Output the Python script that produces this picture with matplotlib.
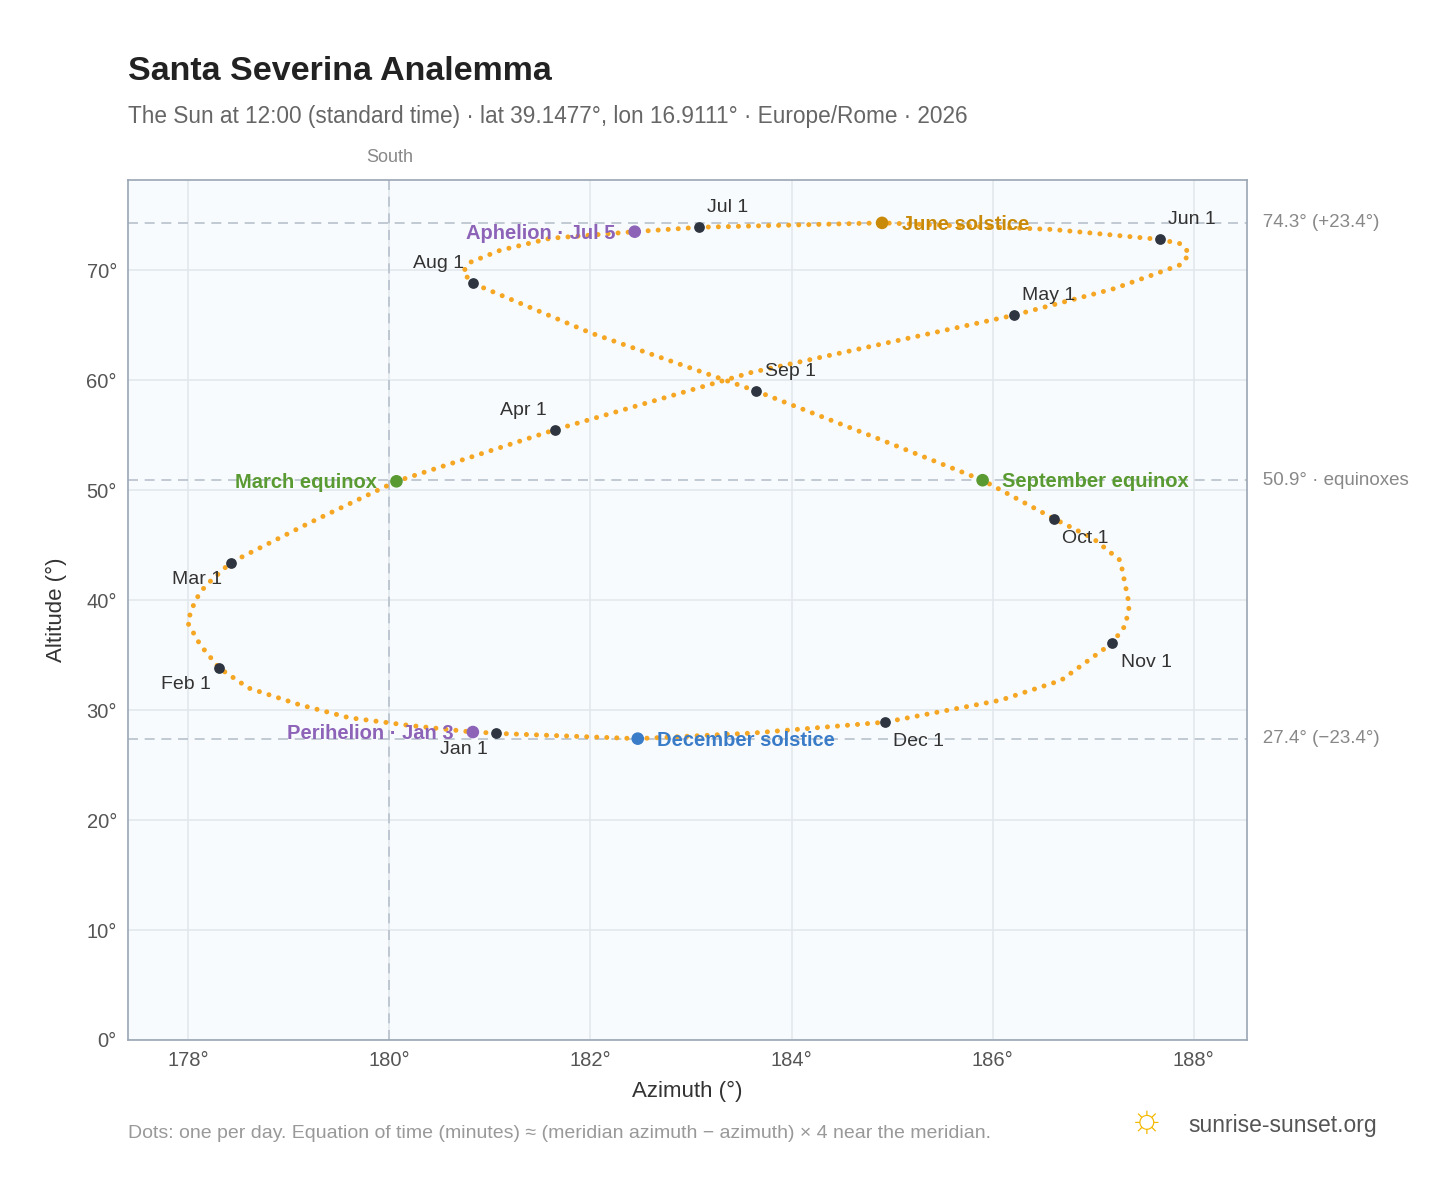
import matplotlib
matplotlib.use("Agg")
import matplotlib.pyplot as plt
plt.rcParams['font.family'] = ['Liberation Sans', 'DejaVu Sans']

# Path of the noon sun, azimuth / altitude
path_az = [181.06,180.83,180.2,179.6,179.1,178.6,178.31,178.12,177.99,178.07,178.17,178.42,179.2,180.07,181.65,183.6,186.21,187.2,187.57,187.87,187.96,187.87,187.66,186.6,184.9,183.08,182.44,181.6,181.1,180.8,180.73,180.83,182.0,183.65,184.8,185.9,186.61,187.0,187.27,187.36,187.32,187.19,186.68,186.08,184.93,183.6,182.47,181.15,181.06]
path_alt = [27.9,28.0,28.6,29.3,30.5,32.0,33.8,35.9,38.0,40.0,41.3,43.4,47.0,50.8,55.5,60.7,65.9,68.3,69.5,70.5,71.5,72.4,72.8,73.7,74.3,73.9,73.5,72.9,71.8,70.7,69.8,68.8,64.3,59.0,54.9,50.9,47.4,45.6,43.6,39.5,37.7,36.1,32.7,30.9,28.9,27.9,27.4,27.85,27.9]

months = ["Jan 1","Feb 1","Mar 1","Apr 1","May 1","Jun 1","Jul 1","Aug 1","Sep 1","Oct 1","Nov 1","Dec 1"]
month_az = [181.06,178.31,178.42,181.65,186.21,187.66,183.08,180.83,183.65,186.61,187.19,184.93]
month_alt = [27.9,33.8,43.4,55.5,65.9,72.8,73.9,68.8,59.0,47.4,36.1,28.9]
month_off = [(-6,-12),(-6,-12),(-6,-12),(-6,14),(6,14),(6,14),(6,14),(-6,14),(6,14),(6,-14),(6,-14),(6,-14)]
month_ha = ["right","right","right","right","left","left","left","right","left","left","left","left"]

events = ["March equinox","September equinox","June solstice","December solstice","Aphelion · Jul 5","Perihelion · Jan 3"]
event_az = [180.07,185.9,184.9,182.47,182.44,180.83]
event_alt = [50.8,50.9,74.3,27.4,73.5,28.0]
event_col = ["#5a9a32","#5a9a32","#c98a0a","#3a7cc8","#8d63b8","#8d63b8"]
event_ha = ["right","left","left","left","right","right"]

fig = plt.figure(figsize=(14.48,11.88), dpi=100)
ax = fig.add_axes([0.0884,0.1246,0.7728,0.7239])
ax.set_facecolor("#f8fbfd")
ax.set_xlim(177.4,188.53); ax.set_ylim(0,78.2)
ax.set_xticks([178,180,182,184,186,188]); ax.set_xticklabels([f"{v}°" for v in [178,180,182,184,186,188]])
ax.set_yticks(range(0,80,10)); ax.set_yticklabels([f"{v}°" for v in range(0,80,10)])
ax.grid(color="#e3e8ee", lw=1.2); ax.set_axisbelow(True)
for s in ax.spines.values(): s.set_color("#9aa6b4"); s.set_linewidth(1.2)
ax.tick_params(colors="#555", labelsize=14.5, length=0, pad=8)
ax.set_xlabel("Azimuth (°)", fontsize=16, color="#333", labelpad=8)
ax.set_ylabel("Altitude (°)", fontsize=16, color="#333", labelpad=14)

for h in [74.3,50.9,27.4]:
    ax.axhline(h, color="#b8c2cc", ls=(0,(6,4)), lw=1.2)
ax.axvline(180, color="#b8c2cc", ls=(0,(6,4)), lw=1.2)
ax.text(180,79.5,"South",ha="center",va="bottom",color="#888",fontsize=13)
for h,t in zip([74.3,50.9,27.4],["74.3° (+23.4°)","50.9° · equinoxes","27.4° (−23.4°)"]):
    ax.text(188.53, h, "   "+t, va="center", ha="left", color="#888", fontsize=13.5, clip_on=False)

ax.plot(path_az, path_alt, color="#f5a623", lw=3.6, ls=(0,(0.01,2.0)), dash_capstyle="round", zorder=3)
ax.scatter(month_az, month_alt, s=45, color="#2e3540", zorder=5)
for n,x,y,o,ha in zip(months,month_az,month_alt,month_off,month_ha):
    ax.annotate(n,(x,y),xytext=o,textcoords="offset points",ha=ha,va="center",fontsize=14,color="#333")
ax.scatter(event_az, event_alt, s=65, color=event_col, zorder=5)
for n,x,y,c,ha in zip(events,event_az,event_alt,event_col,event_ha):
    ax.annotate(n,(x,y),xytext=(14 if ha=="left" else -14,-1),textcoords="offset points",ha=ha,va="center",fontsize=14.5,color=c,fontweight="bold")

fig.text(0.0884,0.94,"Santa Severina Analemma",fontsize=24.5,fontweight="bold",color="#222",va="center")
fig.text(0.0884,0.902,"The Sun at 12:00 (standard time) · lat 39.1477°, lon 16.9111° · Europe/Rome · 2026",fontsize=16.3,color="#666",va="center")
fig.text(0.0884,0.046,"Dots: one per day. Equation of time (minutes) ≈ (meridian azimuth − azimuth) × 4 near the meridian.",fontsize=14,color="#999",va="center")
fig.text(0.951,0.053,"sunrise-sunset.org",fontsize=16.5,color="#555",ha="right",va="center")
fig.text(0.792,0.056,"☼",fontsize=28,color="#f5b800",ha="center",va="center")
fig.savefig("out.png", dpi=100, facecolor="white")
